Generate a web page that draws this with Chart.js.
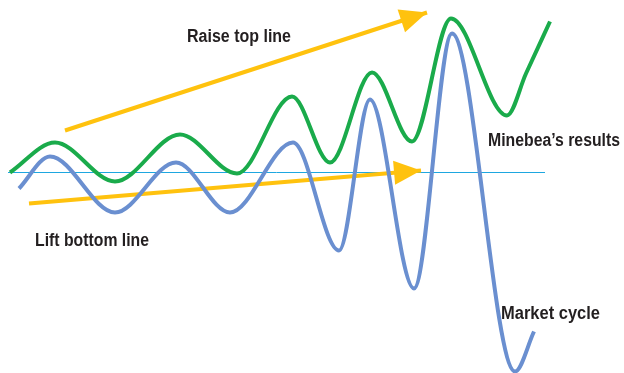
<!DOCTYPE html>
<html>
<head>
<meta charset="utf-8">
<script src="https://cdn.jsdelivr.net/npm/chart.js@4.4.1/dist/chart.umd.min.js"></script>
<style>
	body { margin: 0; background: #fff; }
	#wrap { width: 624px; height: 373px; position: relative; }
</style>
</head>
<body>
<div id="wrap"><canvas id="cycleChart"></canvas></div>
<script>
// Market cycle (blue) - x position, level relative to the flat line
const marketX = [19, 50, 115, 176, 230, 293, 339, 370, 414, 452, 515, 534];
const marketY = [-16, 16, -40, 10, -40, 30, -78, 73, -116, 139, -199, -159];

// Minebea's results (green)
const resultsX = [10, 55, 115, 180, 237, 292, 330, 372, 412, 451, 507, 526, 550];
const resultsY = [0, 30, -9, 38, -1, 76, 10, 100, 31, 154, 57, 99, 151];

// flat reference line
const baseX = [8, 545];
const baseY = [0, 0];

// yellow arrows: start -> tip
const topArrowX = [65, 427];
const topArrowY = [42, 160];
const bottomArrowX = [29, 421];
const bottomArrowY = [-31, 2];

const labels = ['Raise top line', 'Minebea\u2019s results', 'Lift bottom line', 'Market cycle'];

function toPoints(xs, ys) {
	return xs.map((x, i) => ({ x: x, y: ys[i] }));
}

const YELLOW = '#ffc20e';

// arrow heads at the end of the arrow datasets
const arrowHeads = {
	id: 'arrowHeads',
	afterDatasetsDraw(chart) {
		const ctx = chart.ctx;
		[0, 1].forEach((idx) => {
			const pts = chart.getDatasetMeta(idx).data;
			const a = pts[0], b = pts[pts.length - 1];
			const ang = Math.atan2(b.y - a.y, b.x - a.x);
			const len = 27, half = 12;
			const bx = b.x - len * Math.cos(ang);
			const by = b.y - len * Math.sin(ang);
			ctx.save();
			ctx.fillStyle = YELLOW;
			ctx.beginPath();
			ctx.moveTo(b.x, b.y);
			ctx.lineTo(bx + half * Math.sin(ang), by - half * Math.cos(ang));
			ctx.lineTo(bx - half * Math.sin(ang), by + half * Math.cos(ang));
			ctx.closePath();
			ctx.fill();
			ctx.restore();
		});
	},
};

// text labels
const labelPlugin = {
	id: 'labelPlugin',
	afterDraw(chart) {
		const ctx = chart.ctx;
		// [left, baseline, width] in pixels
		const spots = [
			[187, 42, 104],
			[488, 146, 132],
			[35, 246, 114],
			[501, 319, 99],
		];
		ctx.save();
		ctx.fillStyle = '#231f20';
		ctx.textBaseline = 'alphabetic';
		ctx.textAlign = 'left';
		ctx.font = 'bold 18px "Liberation Sans Narrow", "Arial Narrow", "Liberation Sans", Arial, sans-serif';
		labels.forEach((txt, i) => {
			const s = spots[i];
			const w = ctx.measureText(txt).width;
			ctx.save();
			ctx.translate(s[0], s[1]);
			ctx.scale(s[2] / w, 1);
			ctx.fillText(txt, 0, 0);
			ctx.restore();
		});
		ctx.restore();
	},
};

const lineDefaults = {
	pointRadius: 0,
	fill: false,
	clip: false,
};

new Chart(document.getElementById('cycleChart'), {
	type: 'line',
	data: {
		datasets: [
			Object.assign({ data: toPoints(topArrowX, topArrowY), borderColor: YELLOW, borderWidth: 4, order: 4 }, lineDefaults),
			Object.assign({ data: toPoints(bottomArrowX, bottomArrowY), borderColor: YELLOW, borderWidth: 4, order: 4 }, lineDefaults),
			Object.assign({ data: toPoints(baseX, baseY), borderColor: '#1ea7e0', borderWidth: 1, order: 5 }, lineDefaults),
			Object.assign({
				label: 'Minebea\u2019s results',
				data: toPoints(resultsX, resultsY),
				borderColor: '#1aab4b',
				borderWidth: 4,
				cubicInterpolationMode: 'monotone',
				order: 2,
			}, lineDefaults),
			Object.assign({
				label: 'Market cycle',
				data: toPoints(marketX, marketY),
				borderColor: '#6a8fd0',
				borderWidth: 4,
				cubicInterpolationMode: 'monotone',
				order: 1,
			}, lineDefaults),
		],
	},
	options: {
		responsive: true,
		maintainAspectRatio: false,
		animation: false,
		layout: { padding: 0 },
		plugins: {
			legend: { display: false },
			tooltip: { enabled: false },
		},
		scales: {
			x: { type: 'linear', min: 0, max: 624, display: false },
			// half-pixel offset keeps the 1px flat line crisp
			y: { type: 'linear', min: -200.5, max: 172.5, display: false },
		},
	},
	plugins: [arrowHeads, labelPlugin],
});
</script>
</body>
</html>
